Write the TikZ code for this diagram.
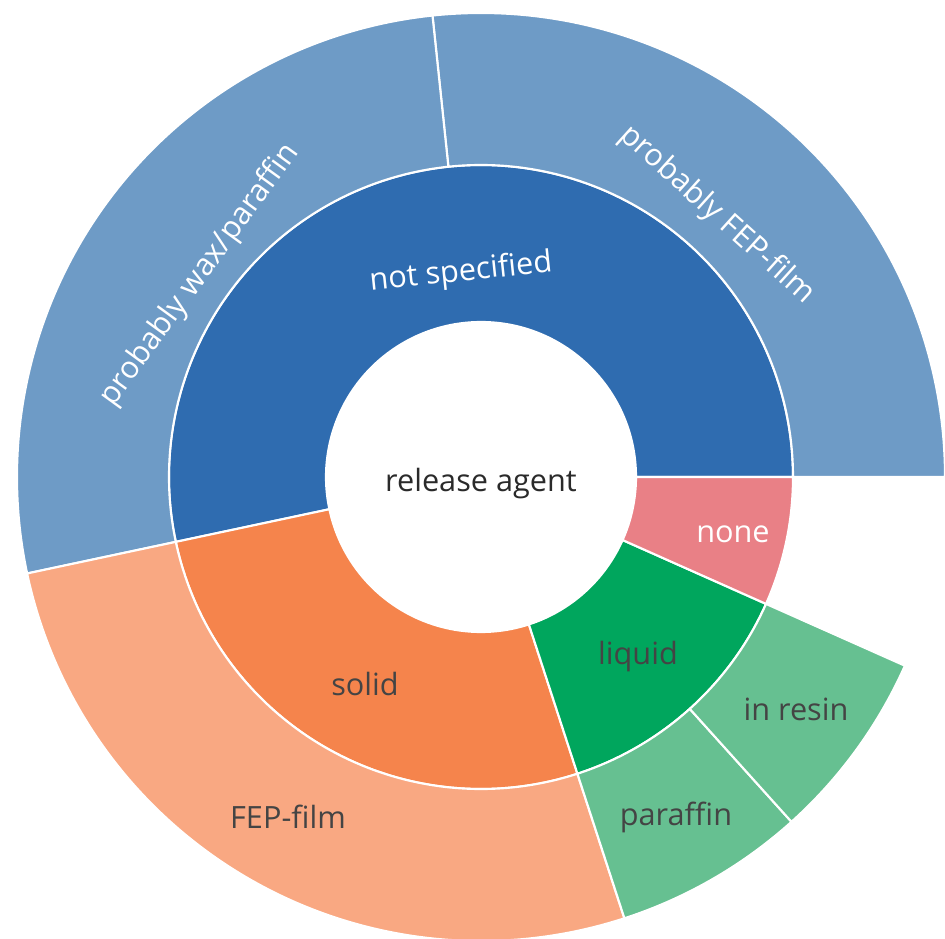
\documentclass[tikz,border=0pt]{standalone}
\usepackage{fontspec}
\setmainfont{Open Sans}
\definecolor{darkblue}{HTML}{2F6CB0}
\definecolor{lightblue}{HTML}{6E9BC6}
\definecolor{darkorange}{HTML}{F5844C}
\definecolor{lightorange}{HTML}{F9A882}
\definecolor{darkgreen}{HTML}{00A65D}
\definecolor{lightgreen}{HTML}{66C091}
\definecolor{rosered}{HTML}{E98086}
\definecolor{labelgray}{HTML}{444444}
\definecolor{rootgray}{HTML}{2A2A2A}
\begin{document}
\begin{tikzpicture}[x=0.75pt, y=0.75pt,
    part/.style={draw=white, line width=1.6pt, line join=round},
    darklabel/.style={text=labelgray, font=\fontsize{23}{27}\selectfont},
    lightlabel/.style={text=white, font=\fontsize{23}{27}\selectfont}]
    \useasboundingbox (-481,-461) rectangle (464,477);

        % inner ring
        \filldraw[part, fill=darkblue](0:155) arc[start angle=0, end angle=192, radius=155] -- (192:312) arc[start angle=192, end angle=0, radius=312] -- cycle;
        \filldraw[part, fill=darkorange](192:155) arc[start angle=192, end angle=288, radius=155] -- (288:312) arc[start angle=288, end angle=192, radius=312] -- cycle;
        \filldraw[part, fill=darkgreen](288:155) arc[start angle=288, end angle=336, radius=155] -- (336:312) arc[start angle=336, end angle=288, radius=312] -- cycle;
        \filldraw[part, fill=rosered](336:155) arc[start angle=336, end angle=360, radius=155] -- (360:312) arc[start angle=360, end angle=336, radius=312] -- cycle;

        % outer ring
        \filldraw[part, fill=lightblue](0:312) arc[start angle=0, end angle=96, radius=312] -- (96:464) arc[start angle=96, end angle=0, radius=464] -- cycle;
        \filldraw[part, fill=lightblue](96:312) arc[start angle=96, end angle=192, radius=312] -- (192:464) arc[start angle=192, end angle=96, radius=464] -- cycle;
        \filldraw[part, fill=lightorange](192:312) arc[start angle=192, end angle=288, radius=312] -- (288:464) arc[start angle=288, end angle=192, radius=464] -- cycle;
        \filldraw[part, fill=lightgreen](288:312) arc[start angle=288, end angle=312, radius=312] -- (312:464) arc[start angle=312, end angle=288, radius=464] -- cycle;
        \filldraw[part, fill=lightgreen](312:312) arc[start angle=312, end angle=336, radius=312] -- (336:464) arc[start angle=336, end angle=312, radius=464] -- cycle;

        \node[darklabel, text=rootgray] (root) at (0,-7){release agent};

        \node[lightlabel, rotate=6] (notspec) at (-20,204){not specified};
        \node[darklabel] (solid) at (-116,-207){solid};
        \node[darklabel] (liquid) at (157,-180){liquid};
        \node[lightlabel] (none) at (252,-57){none};

        \node[lightlabel, rotate=54] (wax) at (-281,202){probably wax/paraffin};
        \node[lightlabel, rotate=-42] (probfep) at (236,262){probably FEP-film};
        \node[darklabel] (fep) at (-193,-340){FEP-film};
        \node[darklabel] (paraffin) at (195,-340){paraffin};
        \node[darklabel] (resin) at (315,-232){in resin};
\end{tikzpicture}
\end{document}
